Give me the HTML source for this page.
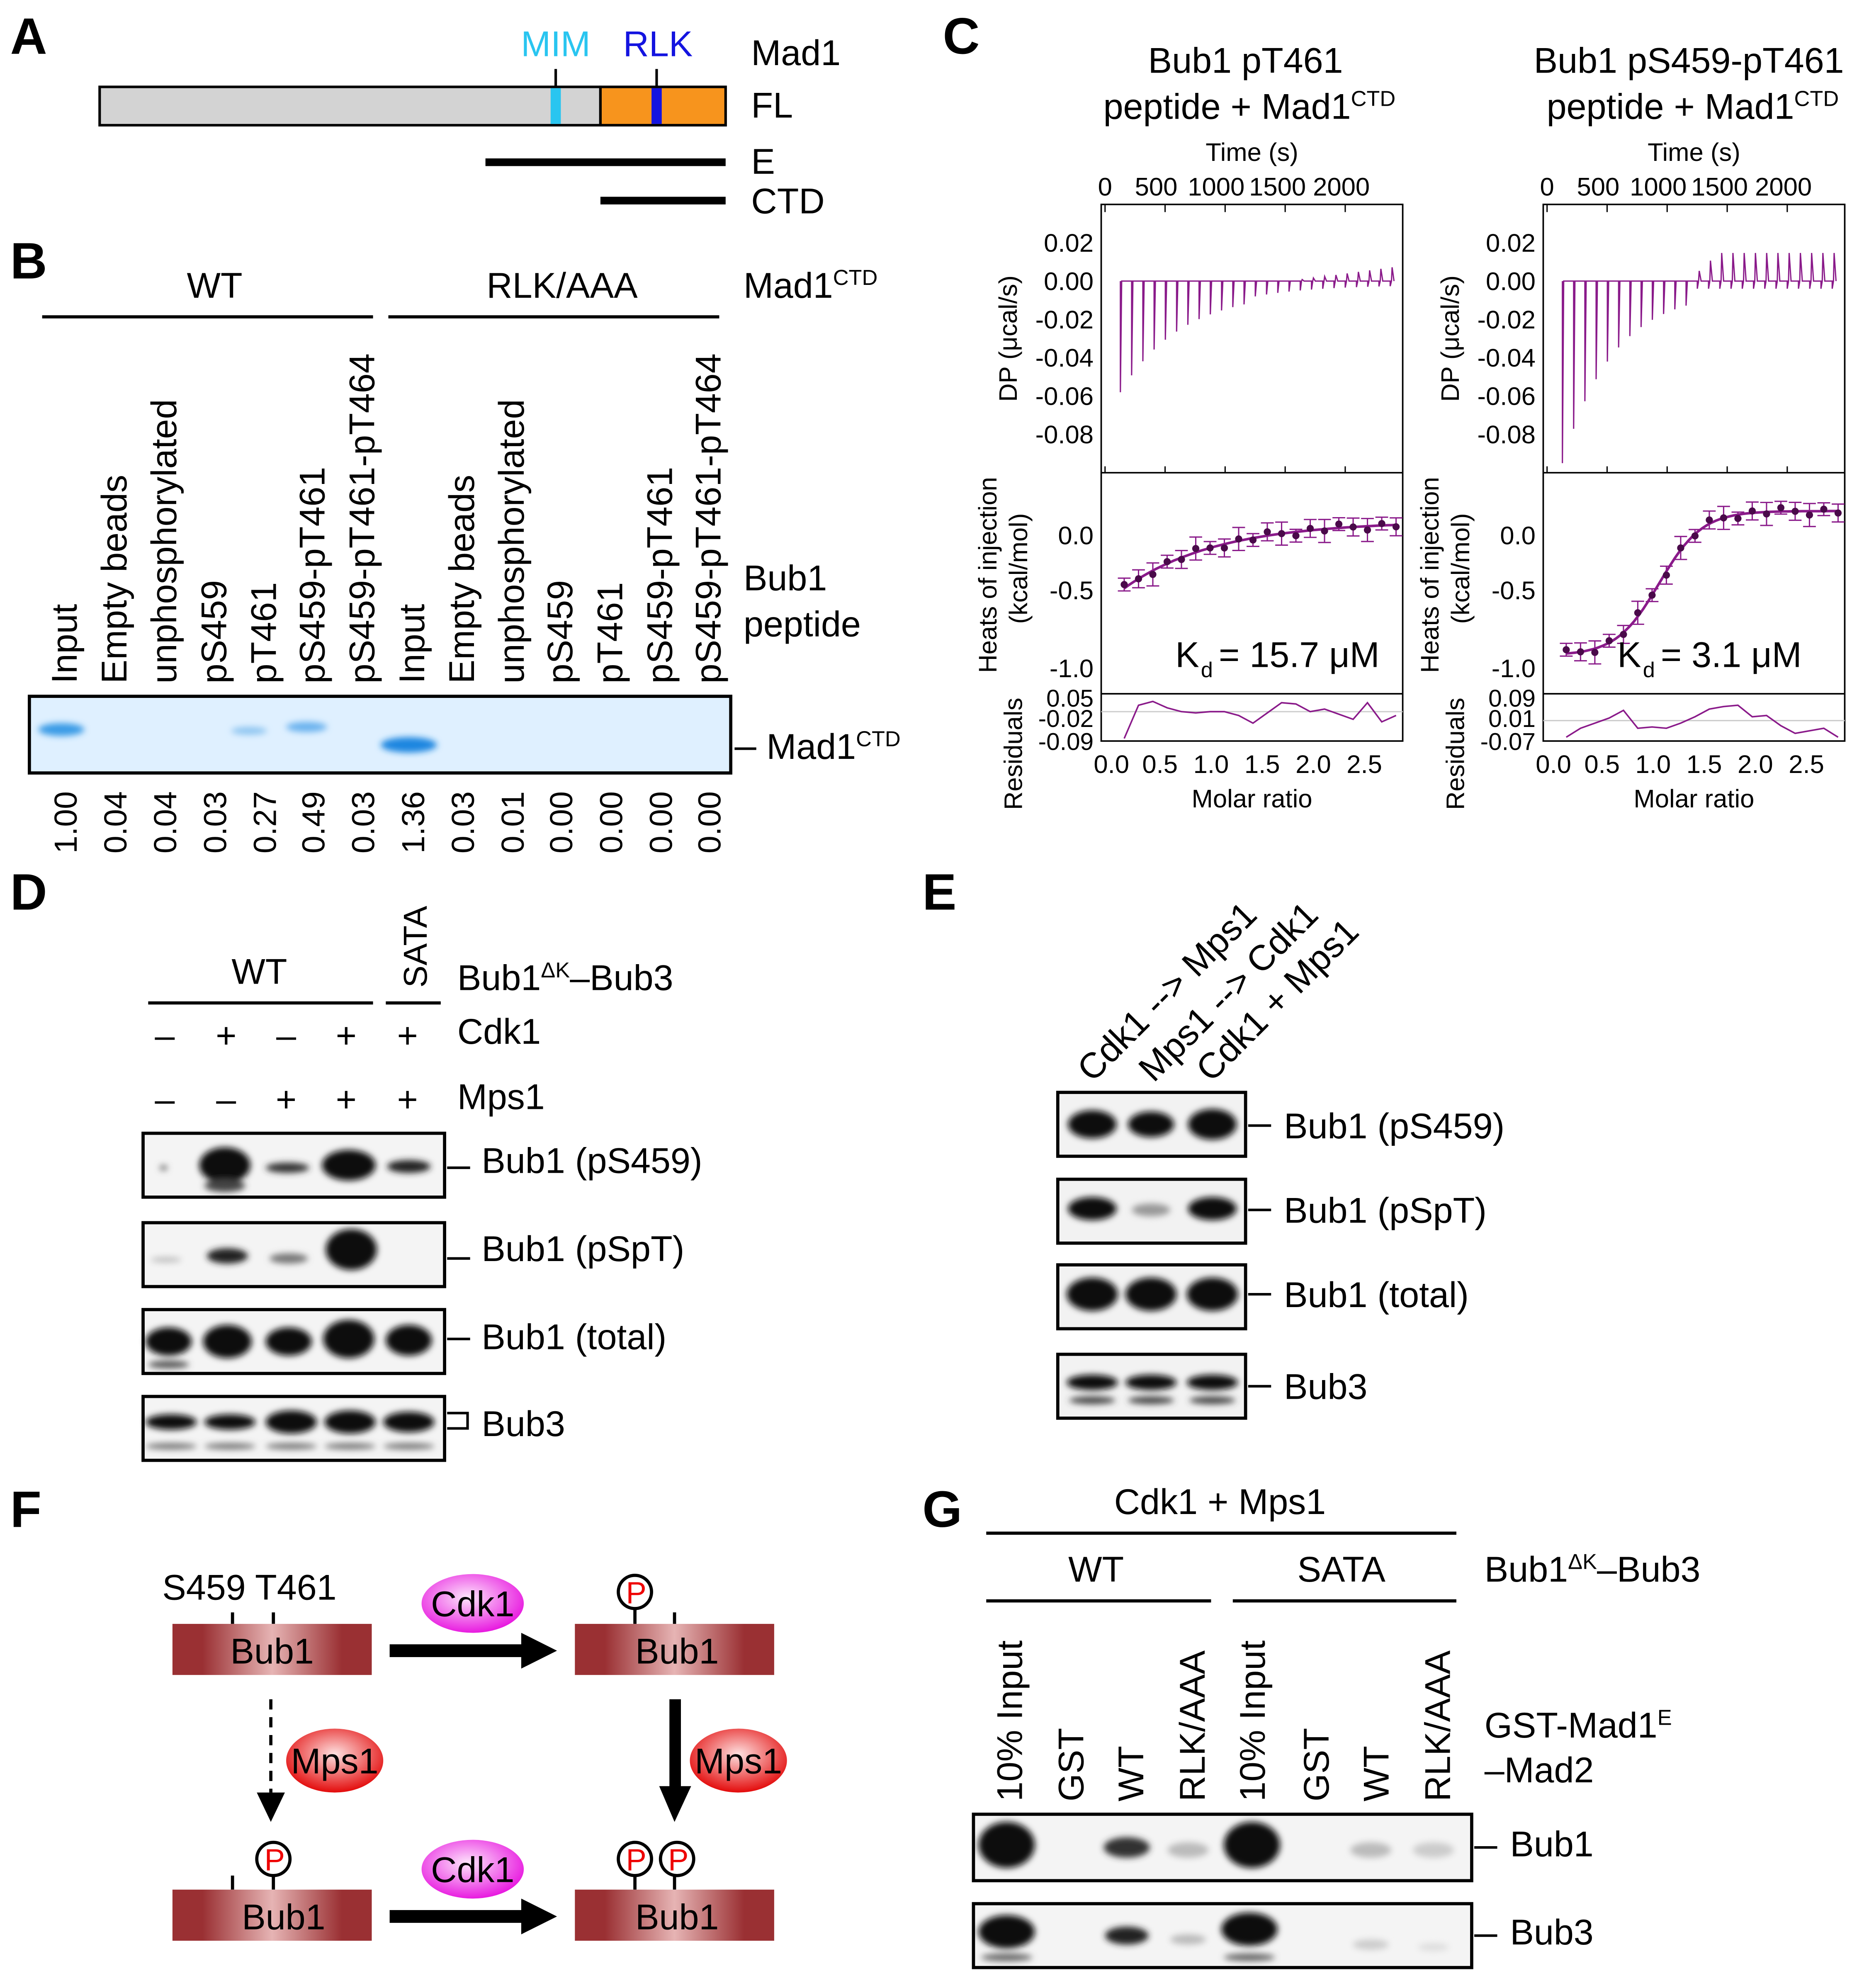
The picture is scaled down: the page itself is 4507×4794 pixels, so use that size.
<!DOCTYPE html>
<html><head><meta charset="utf-8"><style>
html,body{margin:0;padding:0;background:#fff;}
svg{display:block;}
text{font-family:"Liberation Sans",sans-serif;fill:#000;}
</style></head><body>
<svg xmlns="http://www.w3.org/2000/svg" width="4507" height="4794" viewBox="0 0 1463 1556" preserveAspectRatio="none">
<defs>
<linearGradient id="bub" x1="0" x2="1" y1="0" y2="0">
<stop offset="0" stop-color="#9a3033"/><stop offset="0.15" stop-color="#9a3033"/><stop offset="0.5" stop-color="#e6b4b4"/><stop offset="0.85" stop-color="#9a3033"/><stop offset="1" stop-color="#9a3033"/></linearGradient>
<radialGradient id="cdk" cx="0.45" cy="0.4" r="0.6"><stop offset="0" stop-color="#fde6fb"/><stop offset="1" stop-color="#e81be0"/></radialGradient>
<radialGradient id="mps" cx="0.5" cy="0.4" r="0.6"><stop offset="0" stop-color="#fde0e0"/><stop offset="1" stop-color="#e30b0b"/></radialGradient>
<filter id="bl" x="-50%" y="-50%" width="200%" height="200%"><feGaussianBlur stdDeviation="2.5"/></filter>
</defs>

<!-- Panel A -->
<text x="8" y="42" font-size="40" font-weight="bold">A</text>
<rect x="78" y="68" width="392" height="30" fill="#d3d3d3" stroke="#000" stroke-width="2"/>
<rect x="470" y="68" width="98" height="30" fill="#f7941d" stroke="#000" stroke-width="2"/>
<rect x="431" y="69" width="8" height="28" fill="#29c5f0"/>
<rect x="510" y="69" width="8" height="28" fill="#1414e0"/>
<line x1="435" y1="54" x2="435" y2="68" stroke="#000" stroke-width="2"/>
<line x1="514" y1="54" x2="514" y2="68" stroke="#000" stroke-width="2"/>
<text x="435" y="44" font-size="28" text-anchor="middle" style="fill:#29c5f0">MIM</text>
<text x="515" y="44" font-size="28" text-anchor="middle" style="fill:#1414e0">RLK</text>
<text x="588" y="51" font-size="28">Mad1</text>
<text x="588" y="92" font-size="28">FL</text>
<line x1="380" y1="127" x2="568" y2="127" stroke="#000" stroke-width="6"/>
<text x="588" y="136" font-size="28">E</text>
<line x1="470" y1="157" x2="568" y2="157" stroke="#000" stroke-width="6"/>
<text x="588" y="167" font-size="28">CTD</text>

<!-- Panel B -->
<text x="8" y="218" font-size="40" font-weight="bold">B</text>
<text x="168" y="233" font-size="28" text-anchor="middle">WT</text>
<text x="440" y="233" font-size="28" text-anchor="middle">RLK/AAA</text>
<line x1="33" y1="248" x2="292" y2="248" stroke="#000" stroke-width="2.5"/>
<line x1="304" y1="248" x2="563" y2="248" stroke="#000" stroke-width="2.5"/>
<text x="582" y="233" font-size="28">Mad1<tspan font-size="17" dy="-10">CTD</tspan></text>
<g font-size="28">
<text transform="translate(60,535) rotate(-90)">Input</text>
<text transform="translate(99,535) rotate(-90)">Empty beads</text>
<text transform="translate(138,535) rotate(-90)">unphosphorylated</text>
<text transform="translate(177,535) rotate(-90)">pS459</text>
<text transform="translate(216,535) rotate(-90)">pT461</text>
<text transform="translate(254,535) rotate(-90)">pS459-pT461</text>
<text transform="translate(293,535) rotate(-90)">pS459-pT461-pT464</text>
<text transform="translate(332,535) rotate(-90)">Input</text>
<text transform="translate(371,535) rotate(-90)">Empty beads</text>
<text transform="translate(410,535) rotate(-90)">unphosphorylated</text>
<text transform="translate(448,535) rotate(-90)">pS459</text>
<text transform="translate(487,535) rotate(-90)">pT461</text>
<text transform="translate(526,535) rotate(-90)">pS459-pT461</text>
<text transform="translate(564,535) rotate(-90)">pS459-pT461-pT464</text>
</g>
<text x="582" y="462" font-size="28">Bub1</text>
<text x="582" y="498" font-size="28">peptide</text>
<rect x="23" y="545" width="549" height="60" fill="#dff0ff" stroke="#000" stroke-width="2.5"/>
<g filter="url(#bl)">
<ellipse cx="48" cy="571" rx="18" ry="5" fill="#3a9be6"/>
<ellipse cx="195" cy="572" rx="14" ry="3" fill="#8cc4f0"/>
<ellipse cx="240" cy="569" rx="16" ry="4" fill="#6ab2ee"/>
<ellipse cx="320" cy="583" rx="22" ry="6" fill="#1f86e0"/>
</g>
<line x1="575" y1="586" x2="592" y2="586" stroke="#000" stroke-width="2"/>
<text x="600" y="594" font-size="28">Mad1<tspan font-size="17" dy="-10">CTD</tspan></text>
<g font-size="25">
<text transform="translate(60,668) rotate(-90)">1.00</text>
<text transform="translate(99,668) rotate(-90)">0.04</text>
<text transform="translate(138,668) rotate(-90)">0.04</text>
<text transform="translate(177,668) rotate(-90)">0.03</text>
<text transform="translate(216,668) rotate(-90)">0.27</text>
<text transform="translate(254,668) rotate(-90)">0.49</text>
<text transform="translate(293,668) rotate(-90)">0.03</text>
<text transform="translate(332,668) rotate(-90)">1.36</text>
<text transform="translate(371,668) rotate(-90)">0.03</text>
<text transform="translate(410,668) rotate(-90)">0.01</text>
<text transform="translate(448,668) rotate(-90)">0.00</text>
<text transform="translate(487,668) rotate(-90)">0.00</text>
<text transform="translate(526,668) rotate(-90)">0.00</text>
<text transform="translate(564,668) rotate(-90)">0.00</text>
</g>

<!-- Panel C -->
<text x="738" y="42" font-size="40" font-weight="bold">C</text>
<text x="975" y="57" font-size="28" text-anchor="middle">Bub1 pT461</text>
<text x="978" y="93" font-size="28" text-anchor="middle">peptide + Mad1<tspan font-size="17" dy="-10">CTD</tspan></text>
<text x="1322" y="57" font-size="28" text-anchor="middle">Bub1 pS459-pT461</text>
<text x="1325" y="93" font-size="28" text-anchor="middle">peptide + Mad1<tspan font-size="17" dy="-10">CTD</tspan></text>
<g id="cplots" font-size="20"></g>

<!-- Panel D -->
<text x="8" y="712" font-size="40" font-weight="bold">D</text>
<text x="203" y="770" font-size="28" text-anchor="middle">WT</text>
<line x1="116" y1="785" x2="292" y2="785" stroke="#000" stroke-width="2.5"/>
<text transform="translate(334,773) rotate(-90)" font-size="26">SATA</text>
<line x1="302" y1="785" x2="345" y2="785" stroke="#000" stroke-width="2.5"/>
<text x="358" y="775" font-size="28">Bub1<tspan font-size="17" dy="-10">ΔK</tspan><tspan dy="10">–Bub3</tspan></text>
<g font-size="28" text-anchor="middle">
<text x="129" y="820">–</text><text x="177" y="820">+</text><text x="224" y="820">–</text><text x="271" y="820">+</text><text x="319" y="820">+</text>
<text x="129" y="870">–</text><text x="177" y="870">–</text><text x="224" y="870">+</text><text x="271" y="870">+</text><text x="319" y="870">+</text>
</g>
<text x="358" y="817" font-size="28">Cdk1</text>
<text x="358" y="868" font-size="28">Mps1</text>
<g stroke="#000" stroke-width="2.5" fill="#f4f4f4">
<rect x="112" y="887" width="236" height="50"/>
<rect x="112" y="957" width="236" height="50"/>
<rect x="112" y="1025" width="236" height="50"/>
<rect x="112" y="1093" width="236" height="50"/>
</g>
<g filter="url(#bl)" fill="#111">
<ellipse cx="176" cy="912" rx="20" ry="14"/><ellipse cx="176" cy="928" rx="16" ry="5" fill="#444"/>
<ellipse cx="225" cy="914" rx="17" ry="4" fill="#333"/>
<ellipse cx="273" cy="912" rx="21" ry="12"/>
<ellipse cx="320" cy="913" rx="17" ry="5" fill="#222"/>
<ellipse cx="128" cy="914" rx="3" ry="2" fill="#666"/>
<ellipse cx="178" cy="983" rx="16" ry="6" fill="#222"/>
<ellipse cx="226" cy="985" rx="15" ry="4" fill="#777"/>
<ellipse cx="275" cy="978" rx="20" ry="16"/>
<ellipse cx="130" cy="986" rx="12" ry="2" fill="#bbb"/>
<ellipse cx="132" cy="1050" rx="18" ry="11"/><ellipse cx="178" cy="1050" rx="19" ry="13"/><ellipse cx="226" cy="1050" rx="18" ry="11"/><ellipse cx="273" cy="1048" rx="20" ry="15"/><ellipse cx="320" cy="1049" rx="18" ry="12"/>
<ellipse cx="132" cy="1068" rx="16" ry="3" fill="#555"/>
<ellipse cx="134" cy="1113" rx="20" ry="6"/><ellipse cx="180" cy="1113" rx="20" ry="6"/><ellipse cx="228" cy="1113" rx="20" ry="9"/><ellipse cx="274" cy="1113" rx="20" ry="9"/><ellipse cx="320" cy="1113" rx="20" ry="8"/>
<ellipse cx="134" cy="1132" rx="20" ry="2.5" fill="#777"/><ellipse cx="180" cy="1132" rx="20" ry="2.5" fill="#777"/><ellipse cx="228" cy="1132" rx="20" ry="2.5" fill="#777"/><ellipse cx="274" cy="1132" rx="20" ry="2.5" fill="#777"/><ellipse cx="320" cy="1132" rx="20" ry="2.5" fill="#777"/>
</g>
<g stroke="#000" stroke-width="2"><line x1="350" y1="914" x2="368" y2="914"/><line x1="350" y1="985" x2="368" y2="985"/><line x1="350" y1="1048" x2="368" y2="1048"/>
<polyline points="350,1106 366,1106 366,1118 350,1118" fill="none"/></g>
<g font-size="28">
<text x="377" y="918">Bub1 (pS459)</text><text x="377" y="987">Bub1 (pSpT)</text><text x="377" y="1056">Bub1 (total)</text><text x="377" y="1124">Bub3</text>
</g>

<!-- Panel E -->
<text x="722" y="712" font-size="40" font-weight="bold">E</text>
<g font-size="28">
<text transform="translate(855,848) rotate(-45)">Cdk1 --&gt; Mps1</text>
<text transform="translate(903,848) rotate(-45)">Mps1 --&gt; Cdk1</text>
<text transform="translate(948,848) rotate(-45)">Cdk1 + Mps1</text>
</g>
<g stroke="#000" stroke-width="2.5" fill="#f2f2f2">
<rect x="828" y="855" width="147" height="50"/><rect x="828" y="923" width="147" height="50"/><rect x="828" y="990" width="147" height="50"/><rect x="828" y="1060" width="147" height="50"/>
</g>
<g filter="url(#bl)" fill="#111">
<ellipse cx="855" cy="880" rx="19" ry="11"/><ellipse cx="901" cy="880" rx="18" ry="10"/><ellipse cx="949" cy="880" rx="19" ry="12"/>
<ellipse cx="855" cy="946" rx="19" ry="9"/><ellipse cx="901" cy="947" rx="15" ry="5" fill="#999"/><ellipse cx="949" cy="946" rx="19" ry="9"/>
<ellipse cx="855" cy="1013" rx="20" ry="13"/><ellipse cx="901" cy="1013" rx="20" ry="13"/><ellipse cx="949" cy="1013" rx="20" ry="13"/>
<ellipse cx="855" cy="1082" rx="20" ry="6"/><ellipse cx="901" cy="1082" rx="20" ry="6"/><ellipse cx="949" cy="1082" rx="20" ry="6"/>
<ellipse cx="855" cy="1096" rx="18" ry="3" fill="#444"/><ellipse cx="901" cy="1096" rx="18" ry="3" fill="#444"/><ellipse cx="949" cy="1096" rx="18" ry="3" fill="#444"/>
</g>
<g stroke="#000" stroke-width="2"><line x1="977" y1="881" x2="995" y2="881"/><line x1="977" y1="947" x2="995" y2="947"/><line x1="977" y1="1013" x2="995" y2="1013"/><line x1="977" y1="1085" x2="995" y2="1085"/></g>
<g font-size="28">
<text x="1005" y="891">Bub1 (pS459)</text><text x="1005" y="957">Bub1 (pSpT)</text><text x="1005" y="1023">Bub1 (total)</text><text x="1005" y="1095">Bub3</text>
</g>

<!-- Panel F -->
<text x="8" y="1195" font-size="40" font-weight="bold">F</text>
<text x="127" y="1252" font-size="28">S459 T461</text>
<g stroke="#000" stroke-width="2.5">
<line x1="182" y1="1262" x2="182" y2="1271"/><line x1="214" y1="1262" x2="214" y2="1271"/>
<line x1="528" y1="1262" x2="528" y2="1271"/><line x1="497" y1="1258" x2="497" y2="1271"/>
<line x1="182" y1="1468" x2="182" y2="1479"/><line x1="214" y1="1462" x2="214" y2="1479"/>
<line x1="497" y1="1462" x2="497" y2="1479"/><line x1="528" y1="1462" x2="528" y2="1479"/>
</g>
<g fill="url(#bub)">
<rect x="135" y="1271" width="156" height="40"/><rect x="450" y="1271" width="156" height="40"/>
<rect x="135" y="1479" width="156" height="40"/><rect x="450" y="1479" width="156" height="40"/>
</g>
<g font-size="28" text-anchor="middle">
<text x="213" y="1302">Bub1</text><text x="530" y="1302">Bub1</text><text x="222" y="1510">Bub1</text><text x="530" y="1510">Bub1</text>
</g>
<g stroke="#000" stroke-width="2.5" fill="#fff">
<ellipse cx="497" cy="1246" rx="13" ry="13"/><ellipse cx="214" cy="1455" rx="13" ry="13"/>
<ellipse cx="497" cy="1455" rx="13" ry="13"/><ellipse cx="530" cy="1455" rx="13" ry="13"/>
</g>
<g font-size="24" text-anchor="middle">
<text x="498" y="1255" style="fill:#e00">P</text><text x="215" y="1464" style="fill:#e00">P</text><text x="498" y="1464" style="fill:#e00">P</text><text x="531" y="1464" style="fill:#e00">P</text>
</g>
<ellipse cx="370" cy="1255" rx="40" ry="23" fill="url(#cdk)"/><ellipse cx="370" cy="1463" rx="40" ry="23" fill="url(#cdk)"/>
<ellipse cx="262" cy="1378" rx="38" ry="25" fill="url(#mps)"/><ellipse cx="578" cy="1378" rx="38" ry="25" fill="url(#mps)"/>
<g font-size="28" text-anchor="middle">
<text x="370" y="1265">Cdk1</text><text x="370" y="1473">Cdk1</text><text x="262" y="1388">Mps1</text><text x="578" y="1388">Mps1</text>
</g>
<g fill="#000">
<rect x="305" y="1287" width="105" height="10"/><polygon points="408,1278 436,1292 408,1306"/>
<rect x="305" y="1495" width="105" height="10"/><polygon points="408,1486 436,1500 408,1514"/>
<rect x="524" y="1330" width="9" height="70"/><polygon points="516,1398 541,1398 528,1426"/>
<polygon points="201,1403 223,1403 212,1426"/>
</g>
<line x1="212" y1="1330" x2="212" y2="1403" stroke="#000" stroke-width="2.5" stroke-dasharray="8,6"/>

<!-- Panel G -->
<text x="722" y="1195" font-size="40" font-weight="bold">G</text>
<text x="955" y="1185" font-size="28" text-anchor="middle">Cdk1 + Mps1</text>
<line x1="772" y1="1200" x2="1140" y2="1200" stroke="#000" stroke-width="2.5"/>
<text x="858" y="1238" font-size="28" text-anchor="middle">WT</text>
<line x1="772" y1="1253" x2="948" y2="1253" stroke="#000" stroke-width="2.5"/>
<text x="1050" y="1238" font-size="28" text-anchor="middle">SATA</text>
<line x1="965" y1="1253" x2="1140" y2="1253" stroke="#000" stroke-width="2.5"/>
<text x="1162" y="1238" font-size="28">Bub1<tspan font-size="17" dy="-10">ΔK</tspan><tspan dy="10">–Bub3</tspan></text>
<g font-size="28">
<text transform="translate(800,1410) rotate(-90)">10% Input</text>
<text transform="translate(848,1410) rotate(-90)">GST</text>
<text transform="translate(895,1410) rotate(-90)">WT</text>
<text transform="translate(943,1410) rotate(-90)">RLK/AAA</text>
<text transform="translate(990,1410) rotate(-90)">10% Input</text>
<text transform="translate(1040,1410) rotate(-90)">GST</text>
<text transform="translate(1087,1410) rotate(-90)">WT</text>
<text transform="translate(1135,1410) rotate(-90)">RLK/AAA</text>
</g>
<text x="1162" y="1360" font-size="28">GST-Mad1<tspan font-size="17" dy="-10">E</tspan></text>
<text x="1162" y="1395" font-size="28">–Mad2</text>
<g stroke="#000" stroke-width="2.5" fill="#f4f4f4">
<rect x="762" y="1420" width="390" height="52"/><rect x="762" y="1490" width="390" height="50"/>
</g>
<g filter="url(#bl)" fill="#111">
<ellipse cx="788" cy="1444" rx="22" ry="18"/><ellipse cx="882" cy="1446" rx="18" ry="8" fill="#333"/><ellipse cx="930" cy="1448" rx="16" ry="6" fill="#bbb"/>
<ellipse cx="980" cy="1444" rx="22" ry="18"/><ellipse cx="1073" cy="1448" rx="16" ry="6" fill="#bbb"/><ellipse cx="1122" cy="1448" rx="16" ry="6" fill="#ccc"/>
<ellipse cx="788" cy="1512" rx="22" ry="13"/><ellipse cx="788" cy="1532" rx="20" ry="3" fill="#666"/><ellipse cx="882" cy="1515" rx="17" ry="7" fill="#222"/><ellipse cx="930" cy="1518" rx="14" ry="4" fill="#bbb"/>
<ellipse cx="978" cy="1510" rx="22" ry="13"/><ellipse cx="978" cy="1532" rx="20" ry="3" fill="#666"/><ellipse cx="1073" cy="1522" rx="14" ry="4" fill="#ccc"/><ellipse cx="1122" cy="1524" rx="12" ry="3" fill="#ddd"/>
</g>
<g stroke="#000" stroke-width="2"><line x1="1154" y1="1446" x2="1172" y2="1446"/><line x1="1154" y1="1515" x2="1172" y2="1515"/></g>
<text x="1182" y="1453" font-size="28">Bub1</text>
<text x="1182" y="1522" font-size="28">Bub3</text>
</svg>
<script>
(function(){
var NS="http://www.w3.org/2000/svg",g=document.getElementById("cplots");
function el(t,a,txt){var e=document.createElementNS(NS,t);for(var k in a)e.setAttribute(k,a[k]);if(txt!=null)e.textContent=txt;g.appendChild(e);return e;}
function plot(x0,right){
 var x1=x0+236, col="#8a1a8a";
 el("rect",{x:x0,y:160,width:236,height:420,fill:"none",stroke:"#000","stroke-width":1.2});
 el("line",{x1:x0,y1:370,x2:x1,y2:370,stroke:"#000","stroke-width":1.2});
 el("line",{x1:x0,y1:543,x2:x1,y2:543,stroke:"#000","stroke-width":1.2});
 el("text",{x:x0+118,y:126,"font-size":20,"text-anchor":"middle"},"Time (s)");
 var tl=[["0",3],["500",43],["1000",90],["1500",138],["2000",188]];
 tl.forEach(function(t){el("text",{x:x0+t[1],y:153,"font-size":20,"text-anchor":"middle"},t[0]);});
 var yl=[["0.02",190],["0.00",220],["-0.02",250],["-0.04",280],["-0.06",310],["-0.08",340]];
 yl.forEach(function(t){el("text",{x:x0-6,y:t[1]+7,"font-size":20,"text-anchor":"end"},t[0]);});
 el("text",{transform:"translate("+(x0-66)+",265) rotate(-90)","font-size":20,"text-anchor":"middle"},"DP (μcal/s)");
 var d="M"+(x0+15)+",220";
 for(var i=0;i<25;i++){var x=x0+15+i*8.8, depth, up=0;
  if(!right){depth=2+53*Math.exp(-i/5.5)+(i<12?3:0); up=i>15?12*(i-15)/10:0;}
  else{depth=i<12?90*Math.exp(-i/4.5)+5:4; up=i>11?Math.min(22,(i-11)*8):0;}
  d+=" L"+x+",220 L"+x+","+(220+depth*1.5)+" L"+(x+1)+",220 L"+(x+1.5)+","+(220-up)+" L"+(x+3)+",220";}
 el("path",{d:d,fill:"none",stroke:col,"stroke-width":1});
 [["0.0",418],["-0.5",461],["-1.0",522]].forEach(function(t){el("text",{x:x0-6,y:t[1]+8,"font-size":20,"text-anchor":"end"},t[0]);});
 el("text",{transform:"translate("+(x0-82)+",450) rotate(-90)","font-size":20,"text-anchor":"middle"},"Heats of injection");
 el("text",{transform:"translate("+(x0-58)+",445) rotate(-90)","font-size":20,"text-anchor":"middle"},"(kcal/mol)");
 function fy(f){return right?(400+113/(1+Math.exp((f-6.5)/1.5))):(408+55*Math.exp(-(f+0.3)/6.5));}
 var pts=[],fit="";
 for(var i=0;i<20;i++){pts.push([x0+18+i*11.2,fy(i)]);}
 for(var i=0;i<=60;i++){var f=i/60*19,x=x0+18+f*11.2;fit+=(i?" L":"M")+x.toFixed(1)+","+fy(f).toFixed(1);}
 el("path",{d:fit,fill:"none",stroke:col,"stroke-width":2});
 pts.forEach(function(p,i){var jy=p[1]+((i*7)%5-2)*1.5,e=5+(i%3)*2;
  el("line",{x1:p[0],y1:jy-e,x2:p[0],y2:jy+e,stroke:col,"stroke-width":1});
  el("line",{x1:p[0]-5,y1:jy-e,x2:p[0]+5,y2:jy-e,stroke:col,"stroke-width":1});
  el("line",{x1:p[0]-5,y1:jy+e,x2:p[0]+5,y2:jy+e,stroke:col,"stroke-width":1});
  el("circle",{cx:p[0],cy:jy,r:2.8,fill:"#4a0a4a"});});
 el("text",{x:x0+58,y:522,"font-size":28},"K");
 el("text",{x:x0+78,y:530,"font-size":17},"d");
 el("text",{x:x0+92,y:522,"font-size":28},right?"= 3.1 μM":"= 15.7 μM");
 var rl=right?["0.09","0.01","-0.07"]:["0.05","-0.02","-0.09"];
 [[rl[0],548],[rl[1],564],[rl[2],582]].forEach(function(t){el("text",{x:x0-6,y:t[1]+5,"font-size":19,"text-anchor":"end"},t[0]);});
 el("line",{x1:x0,y1:right?564:557,x2:x1,y2:right?564:557,stroke:"#ccc","stroke-width":1});
 var r=right?[577,570,566,562,556,570,569,570,566,561,555,553,552,561,560,568,574,572,570,577]:[578,552,549,554,557,558,557,557,560,566,558,550,551,557,555,559,563,550,565,560];
 var rp="";r.forEach(function(v,i){rp+=(i?" L":"M")+(x0+18+i*11.2)+","+v;});
 el("path",{d:rp,fill:"none",stroke:col,"stroke-width":1.2});
 el("text",{transform:"translate("+(x0-62)+",590) rotate(-90)","font-size":20,"text-anchor":"middle"},"Residuals");
 [["0.0",8],["0.5",46],["1.0",86],["1.5",126],["2.0",166],["2.5",206]].forEach(function(t){el("text",{x:x0+t[1],y:605,"font-size":20,"text-anchor":"middle"},t[0]);});
 el("text",{x:x0+118,y:632,"font-size":20,"text-anchor":"middle"},"Molar ratio");
 for(var i=0;i<5;i++){var tx=x0+3+i*47;el("line",{x1:tx,y1:160,x2:tx,y2:166,stroke:"#000"});el("line",{x1:tx,y1:370,x2:tx,y2:365,stroke:"#000"});}
}
plot(862,false);plot(1208,true);
})();
</script>
</body></html>
